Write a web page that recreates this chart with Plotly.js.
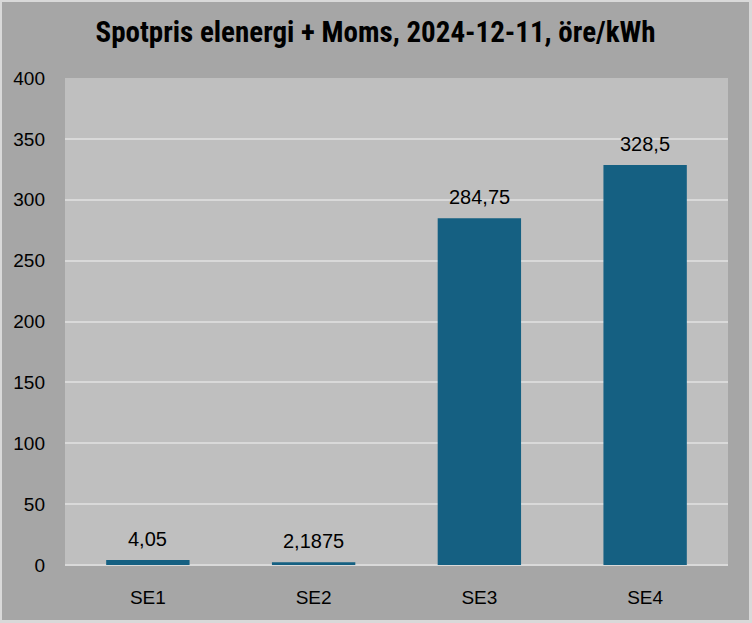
<!DOCTYPE html>
<html><head><meta charset="utf-8">
<script src="https://cdn.plot.ly/plotly-3.0.1.min.js"></script>
<style>html,body{margin:0;padding:0;background:#d9d9d9;}#chart{width:747px;height:618px;border-style:solid;border-color:#d9d9d9;border-width:2px 3px 3px 2px;}</style>
</head><body><div id="chart"></div>
<script>
const categories = ["SE1", "SE2", "SE3", "SE4"];
const values = [4.05, 2.1875, 284.75, 328.5];
const yTicks = [0, 50, 100, 150, 200, 250, 300, 350, 400];
const titleText = "Spotpris elenergi + Moms, 2024-12-11, öre/kWh";

const fmt = v => String(v).replace('.', ',');

const trace = {
  type: 'bar', x: categories, y: values,
  marker: {color: '#156082'},
  hoverinfo: 'none'
};
const annotations = categories.map((c, i) => ({
  x: c, y: values[i], xref: 'x', yref: 'y', text: fmt(values[i]),
  showarrow: false, yanchor: 'bottom', yshift: 8,
  font: {family: 'Liberation Sans, Arial, sans-serif', size: 20, color: '#000'}
}));
const layout = {
  width: 747, height: 618,
  paper_bgcolor: '#a6a6a6', plot_bgcolor: '#bfbfbf',
  margin: {l: 63, r: 21, t: 76, b: 55},
  bargap: 0.497,
  showlegend: false,
  title: {text: '<b>' + titleText + '</b>', x: 0.5, xanchor: 'center', y: 0.951, yanchor: 'middle',
    font: {family: 'Liberation Sans Narrow, Roboto Condensed, Arial Narrow, sans-serif', size: 29, color: '#000'}},
  xaxis: {type: 'category', showgrid: false, zeroline: false, showline: false, ticks: '',
    ticklabelstandoff: 19,
    tickfont: {family: 'Liberation Sans, Arial, sans-serif', size: 19, color: '#000'}},
  yaxis: {range: [0, 400], tickvals: yTicks, ticktext: yTicks.map(String),
    showgrid: true, gridcolor: '#d9d9d9', gridwidth: 2, zeroline: true, zerolinecolor: '#d9d9d9', zerolinewidth: 2,
    showline: false, ticks: '', ticklabelstandoff: 19,
    tickfont: {family: 'Liberation Sans, Arial, sans-serif', size: 19, color: '#000'}},
  annotations: annotations
};
Plotly.newPlot('chart', [trace], layout, {staticPlot: true, displayModeBar: false});
</script></body></html>
